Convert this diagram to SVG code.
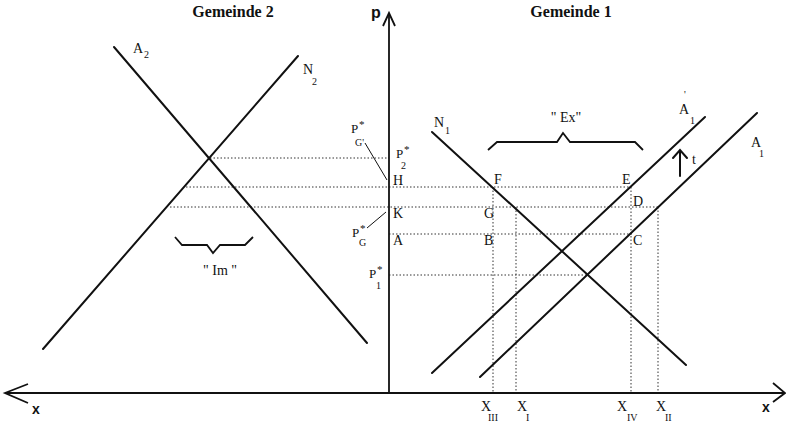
<svg xmlns="http://www.w3.org/2000/svg" width="786" height="422" viewBox="0 0 786 422">
<style>
.curve{stroke:#111;stroke-width:2;fill:none;stroke-linecap:round}
.axis{stroke:#111;stroke-width:1.8;fill:none}
.dot{stroke:#333;stroke-width:1;stroke-dasharray:1.5 2;fill:none}
.thin{stroke:#111;stroke-width:1;fill:none}
.brace{stroke:#111;stroke-width:1.8;fill:none;stroke-linejoin:miter}
.t{font-family:"Liberation Serif",serif;font-size:14px;fill:#111}
.s{font-family:"Liberation Serif",serif;font-size:10px;fill:#111}
.st{font-family:"Liberation Serif",serif;font-size:11px;fill:#111}
.title{font-family:"Liberation Serif",serif;font-size:16px;font-weight:bold;fill:#111;text-anchor:middle}
.ax{font-family:"Liberation Sans",sans-serif;font-size:14px;font-weight:bold;fill:#111}
</style>
<rect width="786" height="422" fill="#fff"/>
<g id="connectors">
  <line class="dot" x1="210" y1="158" x2="389" y2="158"/>
  <line class="dot" x1="186" y1="187" x2="630" y2="187"/>
  <line class="dot" x1="170" y1="207" x2="658" y2="207"/>
  <line class="dot" x1="389" y1="234" x2="632" y2="234"/>
  <line class="dot" x1="389" y1="275" x2="588" y2="275"/>
  <line class="dot" x1="493" y1="187" x2="493" y2="393"/>
  <line class="dot" x1="516" y1="207" x2="516" y2="393"/>
  <line class="dot" x1="631" y1="187" x2="631" y2="393"/>
  <line class="dot" x1="658" y1="207" x2="658" y2="393"/>
  <line class="thin" x1="365" y1="143" x2="387" y2="180"/>
  <line class="thin" x1="386" y1="212" x2="367" y2="228"/>
</g>
<g id="axes">
  <line class="axis" x1="389" y1="13" x2="389" y2="393"/>
  <polyline class="axis" points="383,26 389,13 395,26"/>
  <line class="axis" x1="5" y1="393" x2="784" y2="393"/>
  <polyline class="axis" points="28,384 5,393 28,403"/>
  <polyline class="axis" points="773,383 785,393 773,402"/>
  <text class="ax" x="371" y="18" style="font-size:16px">p</text>
  <text class="ax" x="32" y="414">x</text>
  <text class="ax" x="762" y="412">x</text>
</g>
<g id="titles">
  <text class="title" x="233" y="17">Gemeinde 2</text>
  <text class="title" x="571" y="17">Gemeinde 1</text>
</g>
<g id="A2">
  <line class="curve" x1="114" y1="47" x2="367" y2="343"/>
  <text class="t" x="133" y="53">A</text><text class="s" x="144" y="58">2</text>
</g>
<g id="N2">
  <line class="curve" x1="298" y1="56" x2="43" y2="349"/>
  <text class="t" x="303" y="74">N</text><text class="s" x="312" y="85">2</text>
</g>
<g id="Im">
  <polyline class="brace" points="175,237 182,245 207,245 213,253 220,245 245,245 253,237"/>
  <text class="t" x="220" y="275" text-anchor="middle">" Im "</text>
</g>
<g id="N1">
  <line class="curve" x1="432" y1="132" x2="686" y2="365"/>
  <text class="t" x="434" y="127">N</text><text class="s" x="445" y="134">1</text>
</g>
<g id="A1prime">
  <line class="curve" x1="705" y1="117" x2="432" y2="373"/>
  <text class="t" x="679" y="114">A</text><text class="s" x="684" y="98">'</text><text class="s" x="690" y="124">1</text>
</g>
<g id="A1">
  <line class="curve" x1="757" y1="113" x2="480" y2="377"/>
  <text class="t" x="751" y="147">A</text><text class="s" x="759" y="157">1</text>
</g>
<g id="shift-t">
  <line class="curve" x1="680" y1="151" x2="680" y2="176"/>
  <polyline class="curve" points="673,158 680,150 687,158"/>
  <text class="t" x="692" y="164">t</text>
</g>
<g id="Ex">
  <polyline class="brace" points="488,150 497,142 557,142 563,133 570,142 635,142 643,150"/>
  <text class="t" x="566" y="122" text-anchor="middle">" Ex"</text>
</g>
<g id="axis-labels">
  <text class="t" x="351" y="133" style="font-size:13px">P</text><text class="st" x="359" y="128">*</text><text class="s" x="355" y="146">G'</text>
  <text class="t" x="396" y="158" style="font-size:13px">P</text><text class="st" x="404" y="153">*</text><text class="s" x="401" y="169">2</text>
  <text class="t" x="393" y="185">H</text>
  <text class="t" x="393" y="218">K</text>
  <text class="t" x="393" y="245">A</text>
  <text class="t" x="352" y="237" style="font-size:13px">P</text><text class="st" x="360" y="232">*</text><text class="s" x="359" y="246">G</text>
  <text class="t" x="369" y="278" style="font-size:13px">P</text><text class="st" x="377" y="273">*</text><text class="s" x="376" y="289">1</text>
</g>
<g id="points">
  <text class="t" x="494" y="184">F</text>
  <text class="t" x="622" y="184">E</text>
  <text class="t" x="633" y="206">D</text>
  <text class="t" x="633" y="245">C</text>
  <text class="t" x="484" y="218">G</text>
  <text class="t" x="484" y="245">B</text>
</g>
<g id="x-labels">
  <text class="t" x="481" y="411">X</text><text class="s" x="488" y="421">III</text>
  <text class="t" x="517" y="411">X</text><text class="s" x="526" y="421">I</text>
  <text class="t" x="617" y="411">X</text><text class="s" x="627" y="421">IV</text>
  <text class="t" x="656" y="411">X</text><text class="s" x="665" y="421">II</text>
</g>
</svg>
